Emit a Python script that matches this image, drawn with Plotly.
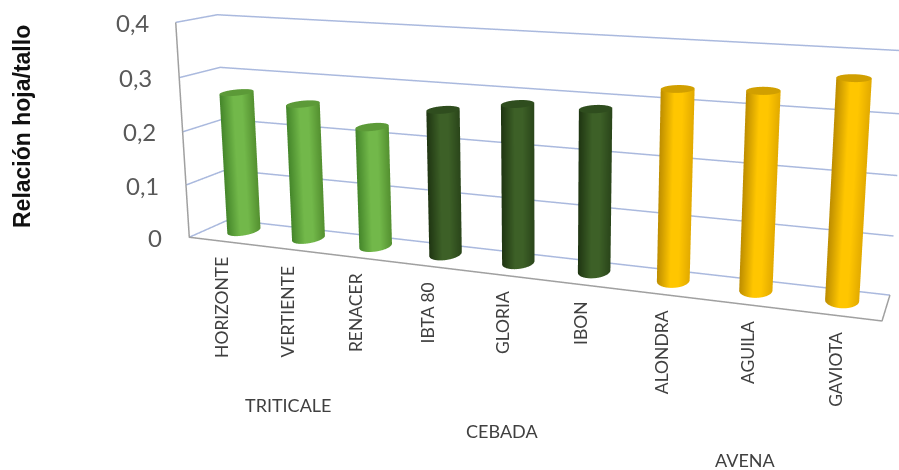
import numpy as np
import plotly.graph_objects as go

categories = ["HORIZONTE", "VERTIENTE", "RENACER", "IBTA 80", "GLORIA", "IBON", "ALONDRA", "AGUILA", "GAVIOTA"]
groups = ["TRITICALE", "CEBADA", "AVENA"]
values = [0.265, 0.253, 0.221, 0.262, 0.282, 0.283, 0.326, 0.332, 0.361]
ticks = [0, 0.1, 0.2, 0.3, 0.4]
tick_labels = ["0", "0,1", "0,2", "0,3", "0,4"]

W, H = 899, 470
F = (H / 2) / np.tan(np.pi / 8)
D = 3.0
XR = [0.5, 9.5]; YR = [0.0, 1.0]; ZR = [0.0, 0.4]

# Where the corners of the plot box sit in the picture: this sets the view of the box.
view_corners = {(0, 0, 0): (190, 235), (0, 0, 1): (175, 23), (0, 1, 0): (228, 222), (0, 1, 1): (218, 14),
                (1, 0, 0): (882, 323), (1, 1, 0): (890, 293), (1, 1, 1): (905, 51)}
rows = []
for k, (px, py) in view_corners.items():
    P = np.array([k[0], k[1], k[2], 1.0])
    u, v = (px - W / 2) / F, -(py - H / 2) / F
    rows.append(np.r_[P, 0 * P, -u * P])
    rows.append(np.r_[0 * P, P, -v * P])
M = np.linalg.svd(np.array(rows))[2][-1].reshape(3, 4)
M = M * D / (M[2] @ np.array([0.5, 0.5, 0.5, 1.0]))

def unit(x, y, z):
    x, y, z = np.asarray(x, float), np.asarray(y, float), np.asarray(z, float)
    return np.stack([(x - XR[0]) / (XR[1] - XR[0]), (y - YR[0]) / (YR[1] - YR[0]), (z - ZR[0]) / (ZR[1] - ZR[0]), np.ones_like(x * y * z)], -1)

def to_scene(x, y, z):
    P = unit(x, y, z)
    return P @ M[0], P @ M[2] - D, P @ M[1]

def to_pixel_x(x, y, z):
    P = unit(x, y, z)
    return W / 2 + F * (P @ M[0]) / (P @ M[2])

styles = [("#44852a", "#72b84a", "#549030", "#5c9a38")] * 3 + [("#1f3512", "#3d6027", "#2a451a", "#2f4d1e")] * 3 + [("#bd8d00", "#ffc600", "#e2aa00", "#d19f00")] * 3
grid_color = "#aab9de"; edge_color = "#a0a0a0"
RX, RY = 0.19, 0.3
CY = 0.58
matte = dict(ambient=1, diffuse=0, specular=0, roughness=1, fresnel=0)

fig = go.Figure()

def line(xs, ys, zs, color, width):
    a, b, c = to_scene(xs, ys, zs)
    fig.add_trace(go.Scatter3d(x=a, y=b, z=c, mode="lines", line=dict(color=color, width=width), hoverinfo="skip", showlegend=False))

for t in ticks:
    line([XR[0], XR[0], XR[1]], [YR[0], YR[1], YR[1]], [t, t, t], grid_color, 3)
line([XR[0], XR[0], XR[1], XR[1]], [YR[0], YR[0], YR[0], YR[1]], [ZR[1], 0, 0, 0], edge_color, 3)

th = np.linspace(0, 2 * np.pi, 145)
for i, v in enumerate(values):
    cx, cy = i + 1, CY
    dark, base, mid, cap = styles[i]
    TH, ZZ = np.meshgrid(th, np.array([0.0, v]))
    xs, ys = cx + RX * np.cos(TH), cy + RY * np.sin(TH)
    a, b, c = to_scene(xs, ys, ZZ)
    pxv = to_pixel_x(xs, ys, ZZ)
    half = (pxv.max(axis=1, keepdims=True) - pxv.min(axis=1, keepdims=True)) / 2
    s = np.clip((pxv - (pxv.max(axis=1, keepdims=True) + pxv.min(axis=1, keepdims=True)) / 2) / half, -1, 1)
    fig.add_trace(go.Surface(x=a, y=b, z=c, surfacecolor=s, cmin=-1, cmax=1, showscale=False, hoverinfo="skip",
                             colorscale=[[0, dark], [0.4, base], [0.65, base], [1, mid]], lighting=matte))
    RR, TH2 = np.meshgrid(np.array([0.0, 1.0]), th)
    a, b, c = to_scene(cx + RX * RR * np.cos(TH2), cy + RY * RR * np.sin(TH2), np.full(RR.shape, v))
    fig.add_trace(go.Surface(x=a, y=b, z=c, surfacecolor=np.zeros(RR.shape), cmin=0, cmax=1, showscale=False, hoverinfo="skip",
                             colorscale=[[0, cap], [1, cap]], lighting=matte))

scene_ann = []
for t, lab in zip(ticks, tick_labels):
    a, b, c = to_scene(XR[0], YR[0], t)
    scene_ann.append(dict(x=float(a), y=float(b), z=float(c), text=lab, showarrow=False, xanchor="right", xshift=-25,
                          font=dict(family="Lato", size=24, color="#595959")))
for i, name in enumerate(categories):
    a, b, c = to_scene(i + 1, YR[0], 0)
    scene_ann.append(dict(x=float(a), y=float(b), z=float(c), text=name, showarrow=False, textangle=-90, xanchor="center", yanchor="top",
                          xshift=0, yshift=-14, font=dict(family="Lato", size=17.5, color="#404040")))

R = 8
axis = dict(visible=False, showgrid=False, showbackground=False, showspikes=False, zeroline=False, range=[-R, R])
group_font = dict(family="Lato", size=18, color="#404040")
def label(px, py, text, font, angle=0):
    return dict(xref="paper", yref="paper", x=px / W, y=1 - py / H, xanchor="center", yanchor="middle",
                text=text, textangle=angle, showarrow=False, font=font)
fig.update_layout(
    width=W, height=H, margin=dict(l=0, r=0, t=0, b=0), paper_bgcolor="white", showlegend=False,
    scene=dict(domain=dict(x=[0, 1], y=[0, 1]), xaxis=axis, yaxis=axis, zaxis=axis,
               aspectmode="manual", aspectratio=dict(x=2 * R, y=2 * R, z=2 * R),
               camera=dict(eye=dict(x=0, y=-D, z=0), center=dict(x=0, y=0, z=0), up=dict(x=0, y=0, z=1),
                           projection=dict(type="perspective")),
               annotations=scene_ann),
    annotations=[
        label(22, 127, "<b>Relación hoja/tallo</b>", dict(family="Liberation Sans", size=23, color="#111111"), -90),
        label(288, 405, groups[0], group_font),
        label(502, 431, groups[1], group_font),
        label(745, 460, groups[2], group_font),
    ],
)
fig.write_html("out.html", config=dict(displayModeBar=False),
               post_script="document.body.style.margin='0';Plotly.relayout('{plot_id}',{width:899,height:470});")
